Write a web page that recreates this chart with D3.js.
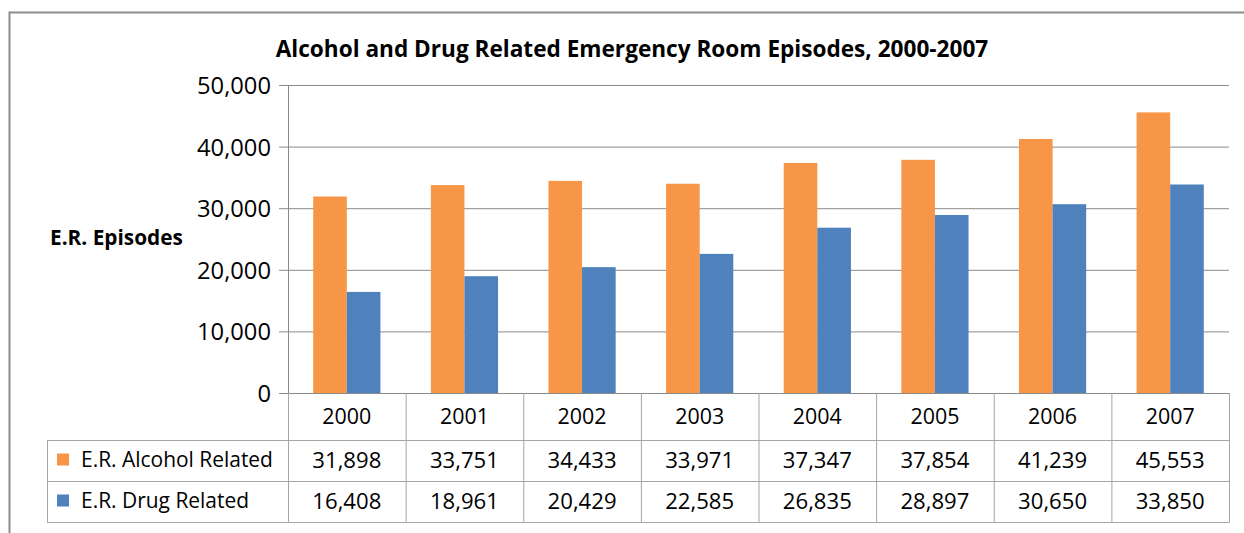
<!DOCTYPE html>
<html>
<head>
<meta charset="utf-8">
<script src="https://cdn.jsdelivr.net/npm/d3@7"></script>
<style>
  html, body { margin: 0; padding: 0; background: #fff; }
  svg { display: block; }
  text { font-family: "Open Sans", "Noto Sans", sans-serif; fill: #000; }
</style>
</head>
<body>
<svg id="chart" width="1244" height="533"></svg>
<script>
// Emergency room episodes by year
const years = ["2000", "2001", "2002", "2003", "2004", "2005", "2006", "2007"];
const seriesNames = ["E.R. Alcohol Related", "E.R. Drug Related"];
const alcoholRelated = [31898, 33751, 34433, 33971, 37347, 37854, 41239, 45553];
const drugRelated = [16408, 18961, 20429, 22585, 26835, 28897, 30650, 33850];
const yTicks = [0, 10000, 20000, 30000, 40000, 50000];
const colors = ["#F79646", "#4F81BD"];

const seriesValues = [alcoholRelated, drugRelated];
const rows = years.map((y, i) => ({ year: y, values: seriesValues.map(s => s[i]) }));

const svg = d3.select("#chart");
const fmt = d3.format(",");

// pick a font size so that a sample string spans the wanted width
function fitSize(sample, width, weight) {
  const t = svg.append("text").attr("font-size", 20)
    .attr("font-weight", weight || "normal").text(sample);
  const w = t.node().getComputedTextLength();
  t.remove();
  return 20 * width / w;
}

// layout
const plot = { left: 288, right: 1229, top: 85, bottom: 393 };
const table = { left: 47, headerBottom: 440, rowH: 41 };

const tickSize = fitSize("50,000", 74);
const cellSize = fitSize("31,898", 69);
const yearSize = fitSize("2000", 49);
const nameSize = fitSize("E.R. Alcohol Related", 192);
const titleSize = fitSize("Alcohol and Drug Related Emergency Room Episodes, 2000-2007", 713, "bold");
const axisTitleSize = fitSize("E.R. Episodes", 133, "bold");

// outer frame (top and left edges visible)
svg.append("path")
  .attr("d", "M9.5,533 V12.5 H1244")
  .attr("fill", "none")
  .attr("stroke", "#8c8c8c")
  .attr("stroke-width", 2);

const x = d3.scaleBand().domain(years).range([plot.left, plot.right]).paddingInner(0).paddingOuter(0);
const xSub = d3.scaleBand().domain(d3.range(seriesNames.length))
  .range([0, x.bandwidth()]).paddingInner(0).paddingOuter(0.75);
const y = d3.scaleLinear().domain([0, 50000]).range([plot.bottom, plot.top]);

// gridlines + ticks
const yAxis = d3.axisLeft(y).tickValues(yTicks).tickFormat(fmt)
  .tickSize(-(plot.right - plot.left)).tickPadding(17);
const gy = svg.append("g").attr("transform", `translate(${plot.left},0)`).call(yAxis);
gy.select(".domain").remove();
gy.selectAll(".tick line").attr("stroke", "#8a8a8a").attr("stroke-width", 1)
  .attr("x1", -9);
gy.selectAll(".tick text").attr("font-size", tickSize).attr("fill", "#222")
  .attr("font-family", "'Open Sans', sans-serif").attr("dy", "0.36em");

// value axis line
svg.append("line")
  .attr("x1", plot.left + 0.5).attr("x2", plot.left + 0.5)
  .attr("y1", plot.top).attr("y2", plot.bottom)
  .attr("stroke", "#8a8a8a");

// bars
const groups = svg.append("g").selectAll("g").data(rows).join("g")
  .attr("transform", d => `translate(${x(d.year)},0)`);
groups.selectAll("rect").data(d => d.values.map((v, i) => ({ v, i }))).join("rect")
  .attr("x", d => xSub(d.i))
  .attr("width", xSub.bandwidth())
  .attr("y", d => y(d.v))
  .attr("height", d => y(0) - y(d.v))
  .attr("fill", d => colors[d.i]);

// zero line on top of bars
svg.append("line")
  .attr("x1", plot.left - 9).attr("x2", plot.right)
  .attr("y1", y(0) + 0.5).attr("y2", y(0) + 0.5)
  .attr("stroke", "#8a8a8a");

// data table
const gridColor = "#a6a6a6";
const tableBottom = table.headerBottom + table.rowH * seriesNames.length;
const tg = svg.append("g").attr("stroke", gridColor).attr("fill", "none");
years.forEach((yr) => {
  tg.append("line").attr("x1", x(yr) + 0.5).attr("x2", x(yr) + 0.5)
    .attr("y1", plot.bottom).attr("y2", tableBottom);
});
tg.append("line").attr("x1", plot.right + 0.5).attr("x2", plot.right + 0.5)
  .attr("y1", plot.bottom).attr("y2", tableBottom);
tg.append("line").attr("x1", table.left + 0.5).attr("x2", table.left + 0.5)
  .attr("y1", table.headerBottom).attr("y2", tableBottom);
for (let r = 0; r <= seriesNames.length; r++) {
  const yy = table.headerBottom + r * table.rowH + 0.5;
  tg.append("line").attr("x1", table.left).attr("x2", plot.right + 0.5)
    .attr("y1", yy).attr("y2", yy);
}

// year labels
svg.append("g").selectAll("text").data(years).join("text")
  .attr("x", d => x(d) + x.bandwidth() / 2)
  .attr("y", (plot.bottom + table.headerBottom) / 2)
  .attr("dy", "0.36em")
  .attr("text-anchor", "middle")
  .attr("font-size", yearSize)
  .text(d => d);

// series rows: legend key, name, values
seriesNames.forEach((name, si) => {
  const cy = table.headerBottom + si * table.rowH + table.rowH / 2;
  svg.append("rect")
    .attr("x", 57).attr("y", cy - 7).attr("width", 12).attr("height", 12)
    .attr("fill", colors[si]);
  svg.append("text")
    .attr("x", 81).attr("y", cy).attr("dy", "0.3em")
    .attr("font-size", nameSize)
    .text(name);
  svg.append("g").selectAll("text").data(seriesValues[si]).join("text")
    .attr("x", (d, i) => x(years[i]) + x.bandwidth() / 2)
    .attr("y", cy).attr("dy", "0.36em")
    .attr("text-anchor", "middle")
    .attr("font-size", cellSize)
    .text(d => fmt(d));
});

// title
svg.append("text")
  .attr("x", 632).attr("y", 57)
  .attr("text-anchor", "middle")
  .attr("font-size", titleSize).attr("font-weight", "bold")
  .text("Alcohol and Drug Related Emergency Room Episodes, 2000-2007");

// value axis title
svg.append("text")
  .attr("x", 50).attr("y", 238).attr("dy", "0.35em")
  .attr("font-size", axisTitleSize).attr("font-weight", "bold")
  .text("E.R. Episodes");
</script>
</body>
</html>
